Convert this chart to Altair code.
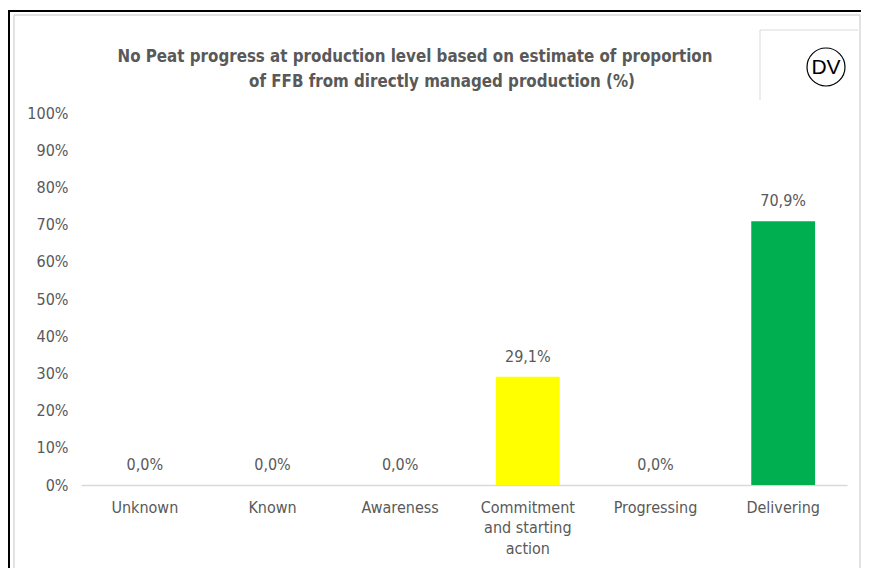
import altair as alt
import pandas as pd

categories = ["Unknown", "Known", "Awareness", "Commitment\nand starting\naction", "Progressing", "Delivering"]
values = [0.0, 0.0, 0.0, 29.1, 0.0, 70.9]
colors = ["#A6A6A6", "#A6A6A6", "#A6A6A6", "#FFFF00", "#A6A6A6", "#00B050"]
title_lines = ["No Peat progress at production level based on estimate of proportion",
               "of FFB from directly managed production (%)"]
y_ticks = [0, 10, 20, 30, 40, 50, 60, 70, 80, 90, 100]

FONT = "Liberation Sans Narrow, DejaVu Sans Condensed, sans-serif"
GREY = "#595959"
FS = 16

df = pd.DataFrame({
    "cat": categories,
    "val": values,
    "color": colors,
    "lbl": [f"{v:.1f}%".replace(".", ",") for v in values],
})

W, H = 766, 372

x = alt.X("cat:N", sort=categories, title=None,
          scale=alt.Scale(paddingInner=0.5, paddingOuter=0.25),
          axis=alt.Axis(labelAngle=0, labelExpr="split(datum.label, '\\n')",
                        labelFont=FONT, labelFontSize=FS, labelColor=GREY,
                        labelPadding=14, labelLineHeight=20.5, labelOverlap=False,
                        ticks=False, domainColor="#D9D9D9", domainWidth=1.3))
y = alt.Y("val:Q", title=None,
          scale=alt.Scale(domain=[0, 100], nice=False),
          axis=alt.Axis(values=y_ticks, labelExpr="datum.value + '%'",
                        labelFont=FONT, labelFontSize=FS, labelColor=GREY,
                        labelOverlap=False, labelPadding=13, ticks=False,
                        domain=False, grid=False))

base = alt.Chart(df)
bars = base.mark_bar().encode(x=x, y=y, color=alt.Color("color:N", scale=None))
text = base.mark_text(baseline="middle", dy=-20, font=FONT, fontSize=FS, color=GREY).encode(
    x=x, y=y, text="lbl:N")

title1 = alt.Chart(pd.DataFrame({"t": [title_lines[0]]})).mark_text(
    font=FONT, fontSize=16.8, fontWeight="bold", color=GREY, align="center", baseline="middle"
).encode(x=alt.value(334), y=alt.value(-56), text="t:N")
title2 = alt.Chart(pd.DataFrame({"t": [title_lines[1]]})).mark_text(
    font=FONT, fontSize=16.8, fontWeight="bold", color=GREY, align="center", baseline="middle"
).encode(x=alt.value(361), y=alt.value(-31), text="t:N")

dummy = pd.DataFrame({"a": [0]})
def rule(x1, y1, x2, y2, color, w):
    return alt.Chart(dummy).mark_rule(color=color, strokeWidth=w).encode(
        x=alt.value(x1), y=alt.value(y1), x2=alt.value(x2), y2=alt.value(y2))

frame = [
    rule(-72, -103, -72, 460, "#000000", 2),
    rule(-73, -102, 781, -102, "#000000", 2),
    rule(-67, -98, 779, -98, "#D9D9D9", 1.5),
    rule(-67, -98, -67, 458, "#D9D9D9", 1.5),
    rule(779, -98, 779, 458, "#D9D9D9", 1.5),
    rule(-67, 457, 779, 457, "#D9D9D9", 1.5),
    rule(679, -83, 679, -13, "#D9D9D9", 1),
    rule(679, -83, 777, -83, "#D9D9D9", 1),
]
circle = alt.Chart(dummy).mark_point(shape="circle", size=1444, filled=False,
                                     color="#000000", strokeWidth=1.2, opacity=1).encode(
    x=alt.value(745), y=alt.value(-46))
dv = alt.Chart(pd.DataFrame({"t": ["DV"]})).mark_text(
    font="Liberation Sans, Arial, sans-serif", fontSize=21, color="#000000",
    align="center", baseline="middle").encode(x=alt.value(745), y=alt.value(-45), text="t:N")

chart = alt.layer(bars, text, title1, title2, *frame, circle, dv).properties(
    width=W, height=H,
    background="white",
    autosize=alt.AutoSizeParams(type="none"),
    padding={"left": 73, "top": 105, "right": 14, "bottom": 83},
).configure_view(strokeWidth=0, strokeOpacity=0)

chart.save("out.html", embed_options={"renderer": "svg", "actions": False})
